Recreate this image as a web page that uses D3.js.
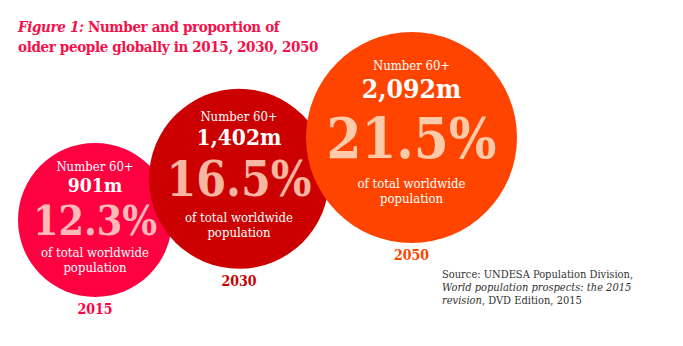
<!DOCTYPE html>
<html>
<head>
<meta charset="utf-8">
<script src="https://cdn.jsdelivr.net/npm/d3@7"></script>
<style>
  body { margin: 0; background: #fff; }
  svg text { font-family: "DejaVu Serif", serif; font-stretch: condensed; }
</style>
</head>
<body>
<div id="chart"></div>
<script>
var width = 683,
    height = 346

var years = ["2015", "2030", "2050"]
var olderPeople = [901, 1402, 2092]        // millions, aged 60+
var shares = [12.3, 16.5, 21.5]            // % of total worldwide population
var circleColors = ["#ff0040", "#cc0000", "#ff4400"]
var shareColors = ["#ffb9b9", "#f7b6a2", "#ffcaa9"]

var data = years.map(function(y, i) {
  return { year: y, number: olderPeople[i], share: shares[i], fill: circleColors[i], light: shareColors[i] }
})

var svg = d3.select("#chart")
  .append("svg")
    .attr("width", width)
    .attr("height", height)

// title
var title = svg.append("g")
  .attr("fill", "#f5104a")
  .style("font-size", "15px")
  .style("font-weight", "bold")
  .style("letter-spacing", "-0.35px")
var t1 = title.append("text").attr("x", 18).attr("y", 32)
t1.append("tspan").style("font-style", "italic").text("Figure 1:")
t1.append("tspan").text(" Number and proportion of")
title.append("text")
  .attr("x", 18)
  .attr("y", 51.5)
  .text("older people globally in 2015, 2030, 2050")

// scales
var r = d3.scaleLinear()
  .domain(d3.extent(shares))
  .range([77, 105.5])

var y = d3.scalePoint()
  .domain(years)
  .range([220, 137.5])

// circles are chained left to right, each overlapping the previous one
var overlap = 23
var cx = 18 + r(shares[0])
data.forEach(function(d, i) {
  if (i > 0) cx += r(data[i - 1].share) + r(d.share) - overlap
  d.cx = cx
  d.cy = y(d.year)
  d.r = r(d.share)
})

var fmt = d3.format(",")

var bubbles = svg.selectAll("g.bubble")
  .data(data)
  .enter()
  .append("g")
    .attr("class", "bubble")
    .attr("transform", function(d) { return "translate(" + d.cx + "," + d.cy + ")" })

bubbles.append("circle")
  .attr("r", function(d) { return d.r })
  .attr("fill", function(d) { return d.fill })

bubbles.append("text")
  .attr("text-anchor", "middle")
  .attr("y", function(d) { return -0.64 * d.r })
  .attr("fill", "#fff")
  .style("font-size", "13px")
  .text("Number 60+")

bubbles.append("text")
  .attr("text-anchor", "middle")
  .attr("y", function(d) { return -0.37 * d.r })
  .attr("fill", "#fff")
  .style("font-weight", "bold")
  .style("font-size", function(d) { return (0.25 * d.r) + "px" })
  .text(function(d) { return fmt(d.number) + "m" })

bubbles.append("text")
  .attr("text-anchor", "middle")
  .attr("y", function(d) { return 0.19 * d.r })
  .attr("fill", function(d) { return d.light })
  .style("font-weight", "bold")
  .style("font-size", function(d) { return (0.53 * d.r) + "px" })
  .text(function(d) { return d.share + "%" })

bubbles.append("text")
  .attr("text-anchor", "middle")
  .attr("y", function(d) { return 0.48 * d.r })
  .attr("fill", "#fff")
  .style("font-size", "13px")
  .text("of total worldwide")

bubbles.append("text")
  .attr("text-anchor", "middle")
  .attr("y", function(d) { return 0.48 * d.r + 15 })
  .attr("fill", "#fff")
  .style("font-size", "13px")
  .text("population")

bubbles.append("text")
  .attr("text-anchor", "middle")
  .attr("y", function(d) { return d.r + 17 })
  .attr("fill", function(d) { return d.fill })
  .style("font-weight", "bold")
  .style("font-size", "14px")
  .text(function(d) { return d.year })

// source note
var src = svg.append("g")
  .attr("transform", "translate(442,278)")
  .attr("fill", "#333")
  .style("font-size", "11px")
src.append("text").attr("y", 0).text("Source: UNDESA Population Division,")
src.append("text").attr("y", 13).style("font-style", "italic").text("World population prospects: the 2015")
var l3 = src.append("text").attr("y", 26)
l3.append("tspan").style("font-style", "italic").text("revision")
l3.append("tspan").text(", DVD Edition, 2015")
</script>
</body>
</html>
